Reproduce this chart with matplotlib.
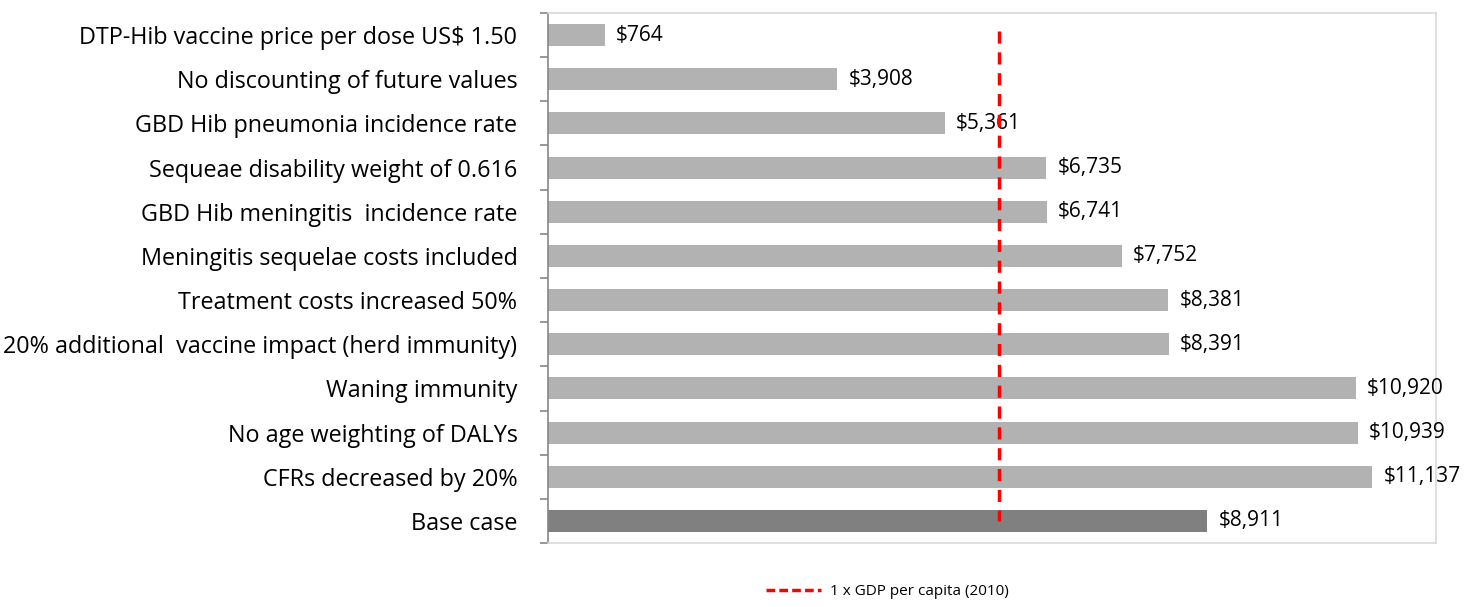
import matplotlib
matplotlib.use("Agg")
import matplotlib.pyplot as plt
import numpy as np
from matplotlib.lines import Line2D

categories = [
    "DTP-Hib vaccine price per dose US$ 1.50",
    "No discounting of future values",
    "GBD Hib pneumonia incidence rate",
    "Sequeae disability weight of 0.616",
    "GBD Hib meningitis  incidence rate",
    "Meningitis sequelae costs included",
    "Treatment costs increased 50%",
    "20% additional  vaccine impact (herd immunity)",
    "Waning immunity",
    "No age weighting of DALYs",
    "CFRs decreased by 20%",
    "Base case",
]
values = [764, 3908, 5361, 6735, 6741, 7752, 8381, 8391, 10920, 10939, 11137, 8911]
gdp_per_capita = 6090
legend_label = "1 x GDP per capita (2010)"

plt.rcParams['font.family'] = ['Open Sans', 'DejaVu Sans']

fig = plt.figure(figsize=(14.64, 6.07), dpi=100)
ax = fig.add_axes([0.3743, 0.1054, 0.6066, 0.8732])

y = np.arange(len(categories))
colors = ["#b2b2b2"] * (len(categories) - 1) + ["#808080"]
ax.barh(y, values, height=0.5, color=colors, zorder=2)

for yi, v in zip(y, values):
    ax.text(v + 150, yi, f"${v:,}", va='center', ha='left', fontsize=15, zorder=3)

ax.plot([gdp_per_capita, gdp_per_capita], [-0.1, len(categories) - 1],
        color="#ff0000", linestyle=(0, (3.5, 2.5)), linewidth=2.5, zorder=4)

ax.set_xlim(0, 12000)
ax.set_ylim(len(categories) - 0.5, -0.5)
ax.set_xticks([])
ax.set_yticks(y)
ax.set_yticklabels(categories, fontsize=16.8)
ax.tick_params(axis='y', which='major', length=0, pad=22)
ax.set_yticks(np.arange(-0.5, len(categories), 1), minor=True)
ax.tick_params(axis='y', which='minor', length=6, width=1.2, color="#868686")

for side in ['top', 'right', 'bottom']:
    ax.spines[side].set_color("#d9d9d9")
    ax.spines[side].set_linewidth(1.2)
ax.spines['left'].set_color("#868686")
ax.spines['left'].set_linewidth(1.2)

handle = Line2D([0], [0], color="#ff0000", linestyle=(0, (2.5, 1.2)), linewidth=2.5)
fig.legend([handle], [legend_label], loc='center', bbox_to_anchor=(0.606, 0.025),
           frameon=False, fontsize=11, handlelength=3.6, handletextpad=0.6)

fig.savefig("out.png", dpi=100)
